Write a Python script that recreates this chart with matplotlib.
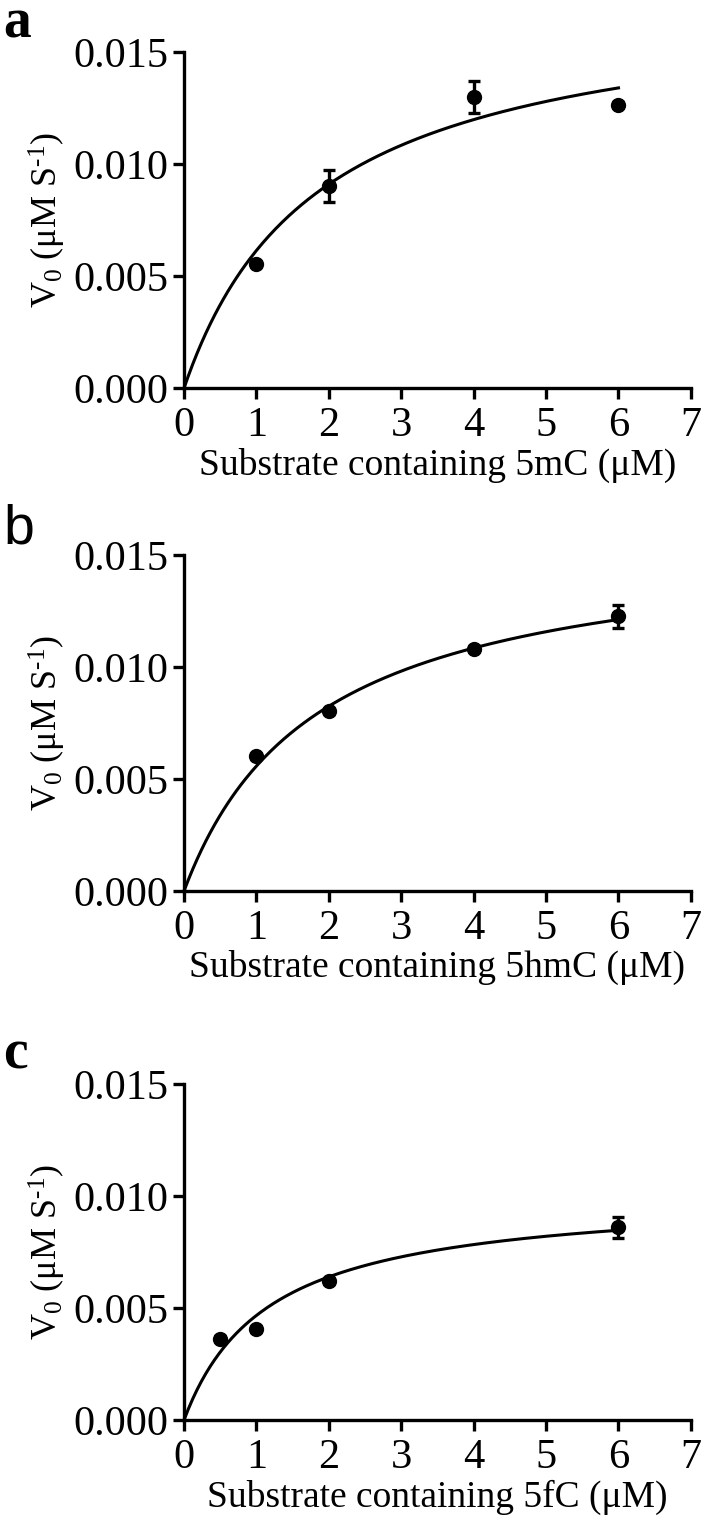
import numpy as np
import matplotlib
matplotlib.use("Agg")
import matplotlib.pyplot as plt

plt.rcParams['font.family'] = ['Liberation Serif', 'DejaVu Serif']
plt.rcParams['mathtext.fontset'] = 'custom'
plt.rcParams['mathtext.rm'] = 'Liberation Serif'
plt.rcParams['mathtext.default'] = 'regular'

#---------------Data---------------------------------------
# panel a : 5mC
x_a = [1, 2, 4, 6]
y_a = [0.00553, 0.00902, 0.0130, 0.01266]
err_a = [0.0001, 0.00073, 0.0007, 0.0001]
vmax_a, km_a = 0.01755, 1.856
# panel b : 5hmC
x_b = [1, 2, 4, 6]
y_b = [0.00601, 0.00802, 0.01082, 0.01227]
err_b = [0.0001, 0.0001, 0.0001, 0.00052]
vmax_b, km_b = 0.01583, 1.838
# panel c : 5fC
x_c = [0.5, 1, 2, 6]
y_c = [0.00364, 0.00405, 0.00619, 0.0086]
err_c = [0.0001, 0.0001, 0.0001, 0.00047]
vmax_c, km_c = 0.01012, 1.1665

labels = ["Substrate containing 5mC (\u03bcM)",
          "Substrate containing 5hmC (\u03bcM)",
          "Substrate containing 5fC (\u03bcM)"]
letters = ["a", "b", "c"]
yticks = [0.0, 0.005, 0.010, 0.015]
yticklabels = ["0.000", "0.005", "0.010", "0.015"]
xticks = [0, 1, 2, 3, 4, 5, 6, 7]

fig = plt.figure(figsize=(7.04, 15.16), dpi=100)

# positions des axes (fraction de la figure)
bottoms = [0.744, 0.4123, 0.0633]
panels = [(x_a, y_a, err_a, vmax_a, km_a),
          (x_b, y_b, err_b, vmax_b, km_b),
          (x_c, y_c, err_c, vmax_c, km_c)]

for i, (xs, ys, es, vmax, km) in enumerate(panels):
    ax = fig.add_axes([0.2614, bottoms[i], 0.720, 0.2216])
    # courbe de Michaelis-Menten
    s = np.linspace(0, 6, 200)
    ax.plot(s, vmax * s / (km + s), color='k', lw=2.2, clip_on=False, zorder=2)
    ax.errorbar(xs, ys, yerr=es, fmt='o', color='k', ms=10, elinewidth=2.4,
                capsize=4, capthick=2.4, clip_on=False, zorder=3)
    ax.set_xlim(0, 7)
    ax.set_ylim(0, 0.015)
    ax.set_xticks(xticks)
    ax.set_yticks(yticks)
    ax.set_yticklabels(yticklabels)
    ax.spines['top'].set_visible(False)
    ax.spines['right'].set_visible(False)
    for sp in ['left', 'bottom']:
        ax.spines[sp].set_linewidth(2.4)
    ax.tick_params(axis='both', direction='out', length=8, width=2.4,
                   labelsize=30.5)
    ax.tick_params(axis='x', pad=5)
    ax.tick_params(axis='y', pad=3)
    ax.set_xlabel(labels[i], fontsize=27, labelpad=2)
    ax.set_ylabel("V$_0$ (\u03bcM S$^{\u20101}$)", fontsize=26, labelpad=4)

# lettres des panneaux
fig.text(0.005, 0.9755, "a", fontsize=40, fontweight='bold', va='baseline')
fig.text(0.005, 0.6418, "b", fontsize=40, family=['Liberation Sans'], va='baseline')
fig.text(0.005, 0.2949, "c", fontsize=40, fontweight='bold', va='baseline')

plt.savefig("out.png", dpi=100)
plt.close()
